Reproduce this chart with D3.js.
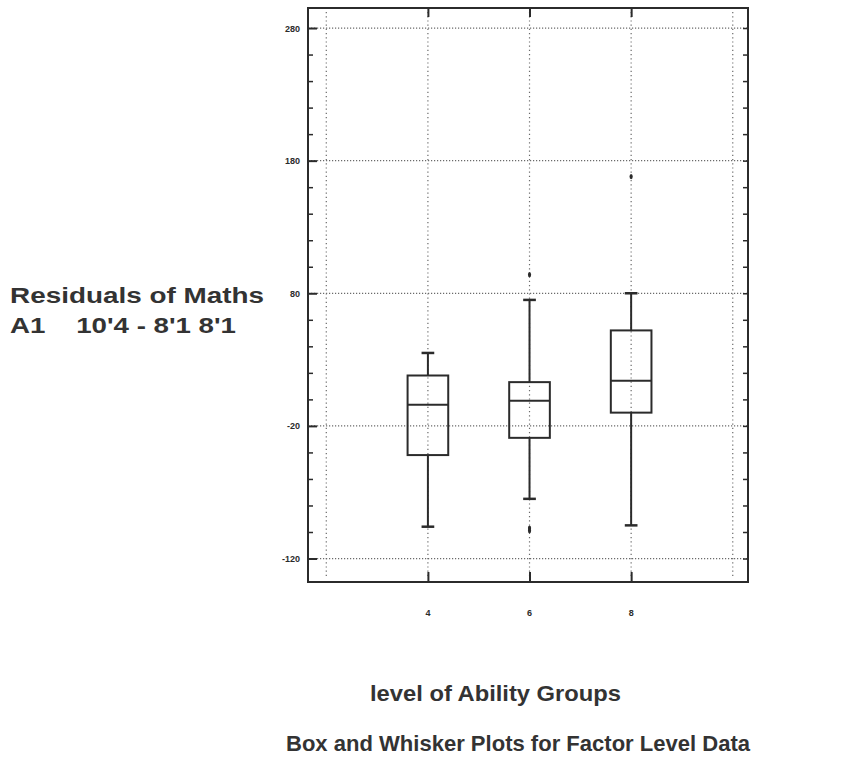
<!DOCTYPE html>
<html>
<head>
<meta charset="utf-8">
<script src="https://cdn.jsdelivr.net/npm/d3@7/dist/d3.min.js"></script>
<style>
  html, body { margin: 0; padding: 0; background: #fff; }
  svg { display: block; }
  text { font-family: "Liberation Sans", Arial, sans-serif; }
</style>
</head>
<body>
<svg id="chart" width="857" height="772"></svg>
<script>
// Factor levels (ability groups) and their box-plot summaries
const groups = [4, 6, 8];
const whiskerLow  = [-96, -75, -95];
const q1          = [-42, -29, -10];
const median      = [-4, -1, 14];
const q3          = [18, 13, 52];
const whiskerHigh = [35, 75, 80];
// Outlying residuals, one list per group
const outliers = [[], [94, -97, -99], [168]];

const yMajorTicks = [280, 180, 80, -20, -120];
const xGridTicks = [2, 4, 6, 8, 10];
const xLabelTicks = [4, 6, 8];

const svg = d3.select("#chart");
const plotL = 308, plotR = 748, plotT = 8, plotB = 582;

const x = d3.scaleLinear().domain([1.64, 10.3]).range([plotL, plotR]);
const y = d3.scaleLinear().domain([295.1, -137.7]).range([plotT, plotB]);

const ink = "#2b2b2b";
const gridCol = "#6a6a6a";

// Dotted grid
const g = svg.append("g");
g.selectAll("line.hg").data(yMajorTicks).join("line")
  .attr("x1", plotL).attr("x2", plotR)
  .attr("y1", d => y(d)).attr("y2", d => y(d))
  .attr("stroke", gridCol).attr("stroke-width", 1.2)
  .attr("stroke-dasharray", "1.2,1.8");
g.selectAll("line.vg").data(xGridTicks).join("line")
  .attr("x1", d => x(d)).attr("x2", d => x(d))
  .attr("y1", plotT + 4).attr("y2", plotB - 4)
  .attr("stroke", gridCol).attr("stroke-width", 1.2)
  .attr("stroke-dasharray", "1.2,3");

// Frame
svg.append("rect")
  .attr("x", plotL).attr("y", plotT)
  .attr("width", plotR - plotL).attr("height", plotB - plotT)
  .attr("fill", "none").attr("stroke", ink).attr("stroke-width", 2);

// Left axis: majors labelled, minors every 20, ticks pointing inward
const yMinor = d3.range(-120, 281, 20).filter(v => !yMajorTicks.includes(v));
svg.append("g").attr("transform", `translate(${plotL},0)`)
  .call(d3.axisRight(y).tickValues(yMajorTicks).tickSize(9).tickFormat(""))
  .call(s => s.select(".domain").remove())
  .call(s => s.selectAll("line").attr("stroke", ink).attr("stroke-width", 2));
svg.append("g").attr("transform", `translate(${plotL},0)`)
  .call(d3.axisRight(y).tickValues(yMinor).tickSize(5).tickFormat(""))
  .call(s => s.select(".domain").remove())
  .call(s => s.selectAll("line").attr("stroke", ink).attr("stroke-width", 1.5));
// Right side ticks pointing inward
svg.append("g").attr("transform", `translate(${plotR},0)`)
  .call(d3.axisLeft(y).tickValues(yMinor.concat(yMajorTicks)).tickSize(5).tickFormat(""))
  .call(s => s.select(".domain").remove())
  .call(s => s.selectAll("line").attr("stroke", ink).attr("stroke-width", 1.5));

// Y tick labels
svg.append("g").selectAll("text").data(yMajorTicks).join("text")
  .attr("x", plotL - 8).attr("y", d => y(d) + 3.5)
  .attr("text-anchor", "end")
  .attr("font-size", 9).attr("font-weight", "bold").attr("fill", ink)
  .text(d => d);

// Top and bottom ticks at the group positions
svg.append("g").attr("transform", `translate(0,${plotT})`)
  .call(d3.axisBottom(x).tickValues(xLabelTicks).tickSize(9).tickFormat(""))
  .call(s => s.select(".domain").remove())
  .call(s => s.selectAll("line").attr("stroke", ink).attr("stroke-width", 2));
svg.append("g").attr("transform", `translate(0,${plotB})`)
  .call(d3.axisTop(x).tickValues(xLabelTicks).tickSize(10).tickFormat(""))
  .call(s => s.select(".domain").remove())
  .call(s => s.selectAll("line").attr("stroke", ink).attr("stroke-width", 2));

// X tick labels
svg.append("g").selectAll("text").data(xLabelTicks).join("text")
  .attr("x", d => x(d)).attr("y", 616)
  .attr("text-anchor", "middle")
  .attr("font-size", 9).attr("font-weight", "bold").attr("fill", ink)
  .text(d => d);

// Boxes and whiskers
const boxW = 0.8; // in x units
const capW = 0.25;
const bx = svg.append("g");
groups.forEach((gv, i) => {
  const cx = x(gv);
  bx.append("line").attr("x1", cx).attr("x2", cx)
    .attr("y1", y(q3[i])).attr("y2", y(whiskerHigh[i]))
    .attr("stroke", ink).attr("stroke-width", 2);
  bx.append("line").attr("x1", cx).attr("x2", cx)
    .attr("y1", y(q1[i])).attr("y2", y(whiskerLow[i]))
    .attr("stroke", ink).attr("stroke-width", 2);
  [whiskerHigh[i], whiskerLow[i]].forEach(v => {
    bx.append("line")
      .attr("x1", x(gv - capW / 2)).attr("x2", x(gv + capW / 2))
      .attr("y1", y(v)).attr("y2", y(v))
      .attr("stroke", ink).attr("stroke-width", 2.5);
  });
  bx.append("rect")
    .attr("x", x(gv - boxW / 2)).attr("width", x(gv + boxW / 2) - x(gv - boxW / 2))
    .attr("y", y(q3[i])).attr("height", y(q1[i]) - y(q3[i]))
    .attr("fill", "none").attr("stroke", ink).attr("stroke-width", 2);
  bx.append("line")
    .attr("x1", x(gv - boxW / 2)).attr("x2", x(gv + boxW / 2))
    .attr("y1", y(median[i])).attr("y2", y(median[i]))
    .attr("stroke", ink).attr("stroke-width", 2);
  outliers[i].forEach(v => {
    bx.append("ellipse").attr("cx", cx).attr("cy", y(v))
      .attr("rx", 1.6).attr("ry", 2.6)
      .attr("fill", ink);
  });
});

// Axis titles
const titleCol = "#333";
function title(txt, tx, ty, len) {
  svg.append("text").attr("x", tx).attr("y", ty)
    .attr("font-size", 22).attr("font-weight", "bold").attr("fill", titleCol)
    .attr("xml:space", "preserve")
    .attr("textLength", len).attr("lengthAdjust", "spacingAndGlyphs")
    .text(txt);
}
title("Residuals of Maths", 10, 303, 254);
title("A1    10'4 - 8'1 8'1", 10, 333, 226);
title("level of Ability Groups", 370, 701, 251);
title("Box and Whisker Plots for Factor Level Data", 286, 751, 464);
</script>
</body>
</html>
